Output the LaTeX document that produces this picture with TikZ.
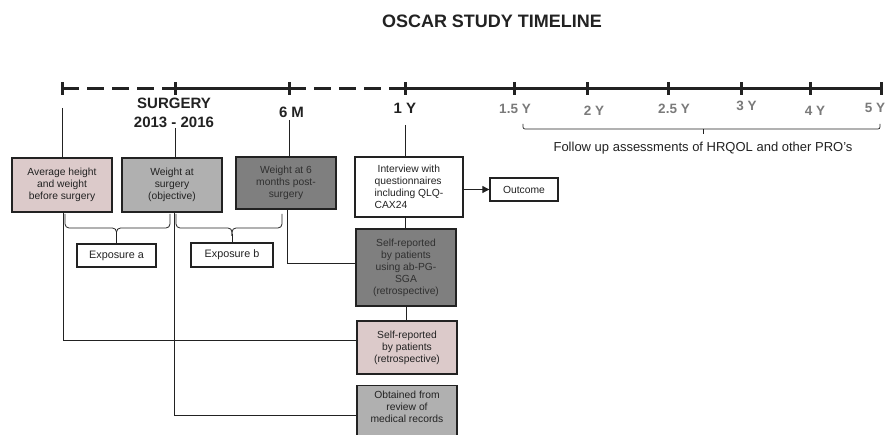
\documentclass[tikz,border=0pt]{standalone}
\usepackage{fontspec}
\setmainfont{Liberation Sans}
\usetikzlibrary{arrows.meta,calc}
\definecolor{pinkc}{HTML}{DCCACA}
\definecolor{lgray}{HTML}{B0B0B0}
\definecolor{dgray}{HTML}{7F7F7F}
\definecolor{labgray}{HTML}{7A7A7A}
\definecolor{ink}{HTML}{222222}
\definecolor{dtext}{HTML}{303030}
\begin{document}
\begin{tikzpicture}[x=1pt,y=-1pt,
  box/.style={draw=ink, line width=1.3pt, inner sep=0pt, align=center,
    font=\fontsize{10.3}{12}\selectfont, text=ink},
  conn/.style={draw=ink, line width=0.8pt},
  tline/.style={draw=ink, line width=3pt},
  tickmark/.style={draw=ink, line width=3pt},
  blab/.style={font=\bfseries\fontsize{15}{17}\selectfont, text=ink, inner sep=0pt},
  glab/.style={font=\bfseries\fontsize{13.5}{15}\selectfont, text=labgray, inner sep=0pt},
  dashseg/.style={dash pattern=on 17pt off 8pt}
]
\useasboundingbox (0,0) rectangle (891,435);

% title
\node[font=\bfseries\fontsize{18}{20}\selectfont, text=ink] (title) at (492,21) {OSCAR STUDY TIMELINE};

% timeline coordinates
\coordinate (t0) at (62,88.5);
\coordinate (t1) at (175,88.5);
\coordinate (t2) at (289,88.5);
\coordinate (t3) at (405,88.5);
\coordinate (t4) at (514,88.5);
\coordinate (t5) at (587,88.5);
\coordinate (t6) at (668,88.5);
\coordinate (t7) at (741,88.5);
\coordinate (t8) at (810,88.5);
\coordinate (t9) at (881,88.5);

\draw[tline,dashseg] (t0) -- (t1);
\draw[tline] (t1) -- (t2);
\draw[tline,dashseg] (t2) -- (t3);
\draw[tline] (t3) -- (t9);
\foreach \t in {t0,t1,t2,t3,t4,t5,t6,t7,t8,t9}
  \draw[tickmark] ($(\t)+(0,-6)$) -- ($(\t)+(0,6.5)$);

% timeline labels
\node[blab] (lsurg) at (174,103.5) {SURGERY};
\node[blab] (lyears) at (174,122.5) {2013 - 2016};
\node[blab] (l6m) at (291.5,112) {6 M};
\node[blab] (l1y) at (405,108) {1 Y};
\node[glab] (l15) at (515,109) {1.5 Y};
\node[glab] (l2) at (594,111) {2 Y};
\node[glab] (l25) at (674,109) {2.5 Y};
\node[glab] (l3) at (746.5,106) {3 Y};
\node[glab] (l4) at (815,111) {4 Y};
\node[glab] (l5) at (875,108) {5 Y};

% follow-up bracket
\draw[conn, line width=0.7pt, rounded corners=2pt] (523,124) -- (523,129) -- (880,129) -- (880,124);
\draw[conn, line width=0.7pt] (703,129) -- (703,134);
\node[font=\fontsize{13}{15}\selectfont, text=ink] (fu) at (703,148) {Follow up assessments of HRQOL and other PRO's};

% boxes
\node[box, fill=pinkc, minimum width=100pt, minimum height=54pt] (A) at (62,185)
  {Average height\\and weight\\before surgery};
\node[box, fill=lgray, minimum width=100pt, minimum height=54pt] (B) at (172,185)
  {Weight at\\surgery\\(objective)};
\node[box, fill=dgray, minimum width=100pt, minimum height=52pt, text=dtext] (C) at (286,183)
  {Weight at 6\\months post-\\surgery};
\node[box, fill=white, minimum width=108pt, minimum height=60pt, align=left] (D) at (409,187)
  {\hspace*{3pt}Interview with\\questionnaires\\including QLQ-\\CAX24};
\node[box, fill=white, minimum width=68pt, minimum height=23pt] (O) at (524,189.5) {Outcome};
\node[box, fill=dgray, minimum width=100pt, minimum height=77pt, text=dtext] (E) at (406,267.5)
  {Self-reported\\by patients\\using ab-PG-\\SGA\\(retrospective)};
\node[box, fill=pinkc, minimum width=100pt, minimum height=53pt] (F) at (407,347.5)
  {Self-reported\\by patients\\(retrospective)};
\node[box, fill=lgray, minimum width=100pt, minimum height=56pt, anchor=north] (G) at (407,385)
  {};
\node[font=\fontsize{10.3}{12}\selectfont, text=ink, align=center, anchor=north, inner sep=0pt] (Gt) at (407,391)
  {Obtained from\\review of\\medical records};
\node[box, fill=white, minimum width=79pt, minimum height=23pt, font=\fontsize{10.8}{12}\selectfont] (Xa) at (116.5,255.5) {Exposure a};
\node[box, fill=white, minimum width=82pt, minimum height=24pt, font=\fontsize{10.8}{12}\selectfont] (Xb) at (232,255) {Exposure b};

% connector coordinates
\coordinate (ca) at (62,108);
\coordinate (cb) at (175,128);
\coordinate (cc) at (289,120);
\coordinate (cd) at (405,125);
\coordinate (yF) at (0,340);
\coordinate (yG) at (0,415);
\coordinate (yE) at (0,263);
\coordinate (xa) at (63,0);
\coordinate (xb) at (174,0);
\coordinate (xc) at (287,0);

\draw[conn] (ca) -- (A.north -| ca);
\draw[conn] (cb) -- (B.north -| cb);
\draw[conn] (cc) -- (C.north -| cc);
\draw[conn] (cd) -- (D.north -| cd);

\draw[conn] (A.south -| xa) -- (xa |- yF) -- (F.west |- yF);
\draw[conn] (B.south -| xb) -- (xb |- yG) -- (G.west |- yG);
\draw[conn] (C.south -| xc) -- (xc |- yE) -- (E.west |- yE);
\draw[conn] (D.south -| cd) -- (E.north -| cd);
\draw[conn] (E.south) -- (F.north -| E.south);
\draw[conn, -{Triangle[length=7pt,width=7pt]}] (D.east |- O.west) -- (O.west);

% exposure braces
\draw[conn, rounded corners=4pt] (65,214) -- (65,228) -- (Xa.north |- 0,228) -- (Xa.north |- 0,236);
\draw[conn, rounded corners=4pt] (170,214) -- (170,228) -- (Xa.north |- 0,228) -- (Xa.north |- 0,236);
\draw[conn] (Xa.north |- 0,234) -- (Xa.north);
\draw[conn, rounded corners=4pt] (176,214) -- (176,228) -- (Xb.north |- 0,228) -- (Xb.north |- 0,236);
\draw[conn, rounded corners=4pt] (282,214) -- (282,228) -- (Xb.north |- 0,228) -- (Xb.north |- 0,236);
\draw[conn] (Xb.north |- 0,234) -- (Xb.north);
\end{tikzpicture}
\end{document}
